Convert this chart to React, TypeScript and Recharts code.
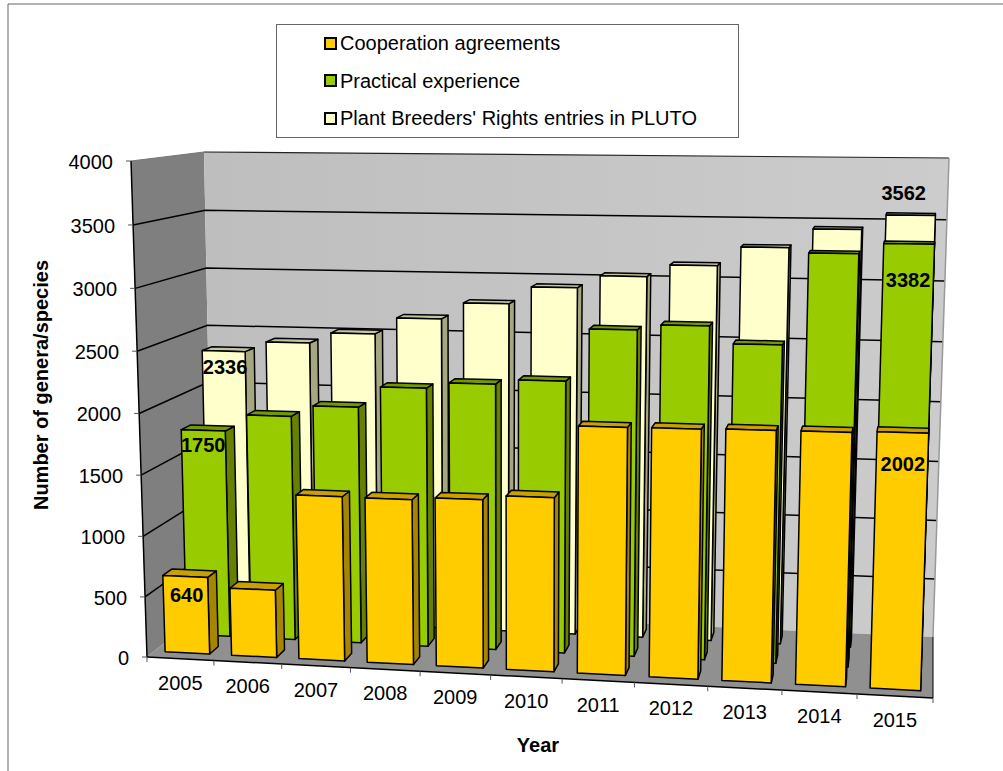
import React from 'react'
import {
  ComposedChart,
  Bar,
  XAxis,
  YAxis,
  Legend,
  LabelList,
  Customized,
} from 'recharts'

const years = ['2005', '2006', '2007', '2008', '2009', '2010', '2011', '2012', '2013', '2014', '2015']
const cooperation = [640, 559, 1348, 1345, 1365, 1402, 1976, 1980, 1987, 1990, 2002]
const practical = [1750, 1890, 1982, 2154, 2203, 2242, 2667, 2712, 2574, 3299, 3382]
const pluto = [2336, 2423, 2513, 2652, 2789, 2933, 3035, 3134, 3289, 3443, 3562]
const yTicks = [0, 500, 1000, 1500, 2000, 2500, 3000, 3500, 4000]

const data = years.map((year, i) => ({
  year,
  cooperation: cooperation[i],
  practical: practical[i],
  pluto: pluto[i],
}))

const W = 1003
const H = 771
const FONT = '"Liberation Sans", Arial, sans-serif'
const FONT_SIZE = 20

// flat plot rectangle the library works in, warped afterwards to the Excel 3D box
const PLOT = { left: 147, right: 933, top: 161, bottom: 657 }

const lerp = (a: number, b: number, t: number) => a + (b - a) * t

// u along the years, v up the value axis, w from front to back wall
const project = (u: number, v: number, w: number) => {
  const uu = u - 0.07 * u * (1 - u)
  const vv = v - 0.036 * v * (1 - v)
  const fbx = lerp(147, 933, uu)
  const fby = lerp(657, 698, uu)
  const ftx = lerp(131, 950, uu)
  const fty = lerp(161, 168, uu)
  const bbx = lerp(213, 933, uu)
  const bby = lerp(604, 637, uu)
  const btx = lerp(204, 949, uu)
  const bty = lerp(152, 158, uu)
  const fx = lerp(fbx, ftx, vv)
  const fy = lerp(fby, fty, vv)
  const bx = lerp(bbx, btx, vv)
  const by = lerp(bby, bty, vv)
  return { x: lerp(fx, bx, w), y: lerp(fy, by, w) }
}

const toU = (x: number) => (x - PLOT.left) / (PLOT.right - PLOT.left)
const toV = (y: number) => (PLOT.bottom - y) / (PLOT.bottom - PLOT.top)
const pts = (list: { x: number; y: number }[]) => list.map((p) => `${p.x},${p.y}`).join(' ')

const BAR_DEPTH = 0.14

const makeBox = (w: number, front: string, top: string, side: string) => (props: any) => {
  const { x, y, width, height } = props
  const u0 = toU(x)
  const u1 = toU(x + width)
  const v = toV(y)
  const v0 = toV(y + height)
  const d = w + BAR_DEPTH
  return (
    <g stroke="#000" strokeWidth={1.5} strokeLinejoin="round">
      <polygon
        fill={side}
        points={pts([project(u1, v0, w), project(u1, v0, d), project(u1, v, d), project(u1, v, w)])}
      />
      <polygon
        fill={top}
        points={pts([project(u0, v, w), project(u1, v, w), project(u1, v, d), project(u0, v, d)])}
      />
      <polygon
        fill={front}
        points={pts([project(u0, v0, w), project(u1, v0, w), project(u1, v, w), project(u0, v, w)])}
      />
    </g>
  )
}

// only the first and last year carry a value label
const makeLabel = (w: number, first: number[], last: number[]) => (props: any) => {
  const { x, y, width, value, index } = props
  if (index !== 0 && index !== years.length - 1) return null
  const [dx, dy] = index === 0 ? first : last
  const p = project(toU(x + width / 2), toV(y), w)
  return (
    <text
      x={p.x + dx}
      y={p.y + dy}
      textAnchor="middle"
      dominantBaseline="central"
      fontFamily={FONT}
      fontWeight="bold"
      fontSize={FONT_SIZE}
      fill="#000"
    >
      {value}
    </text>
  )
}

const Walls = () => {
  const a = project(0, 0, 0)
  const b = project(1, 0, 0)
  const c = project(0, 1, 0)
  const d = project(0, 0, 1)
  const e = project(1, 0, 1)
  const f = project(0, 1, 1)
  const g = project(1, 1, 1)
  return (
    <g>
      <defs>
        <linearGradient id="backWall" x1="0" y1="0" x2="1" y2="0">
          <stop offset="0" stopColor="#bebebe" />
          <stop offset="1" stopColor="#cccccc" />
        </linearGradient>
      </defs>
      <line x1={8} y1={4} x2={W} y2={4} stroke="#666" strokeWidth={1} />
      <line x1={8} y1={4} x2={8} y2={H} stroke="#666" strokeWidth={1} />
      <polygon points={pts([c, f, d, a])} fill="#7f7f7f" />
      <polygon points={pts([f, g, e, d])} fill="url(#backWall)" />
      <polygon points={pts([a, b, e, d])} fill="#909090" />
      {yTicks.slice(1, -1).map((t) => {
        const v = t / 4000
        const p0 = project(0, v, 0)
        const p1 = project(0, v, 1)
        const p2 = project(1, v, 1)
        return (
          <polyline key={t} points={pts([p0, p1, p2])} fill="none" stroke="#000" strokeWidth={1.5} />
        )
      })}
      <line x1={c.x} y1={c.y} x2={f.x} y2={f.y} stroke="#777" strokeWidth={1} />
      <line x1={f.x} y1={f.y} x2={g.x} y2={g.y} stroke="#222" strokeWidth={1.2} />
      <line x1={g.x} y1={g.y} x2={e.x} y2={e.y} stroke="#999" strokeWidth={1.5} />
      <line x1={e.x} y1={e.y} x2={b.x} y2={b.y} stroke="#000" strokeWidth={1} />
      <line x1={c.x} y1={c.y} x2={a.x} y2={a.y} stroke="#000" strokeWidth={1.5} />
      <line x1={a.x} y1={a.y} x2={b.x} y2={b.y} stroke="#000" strokeWidth={1.5} />
      {yTicks.map((t) => {
        const p = project(0, t / 4000, 0)
        return <line key={t} x1={p.x - 5} y1={p.y} x2={p.x} y2={p.y} stroke="#555" strokeWidth={1} />
      })}
      {years.concat('').map((yr, i) => {
        const p = project(i / years.length, 0, 0)
        return <line key={i} x1={p.x} y1={p.y} x2={p.x} y2={p.y + 5} stroke="#555" strokeWidth={1} />
      })}
    </g>
  )
}

const YearTick = (props: any) => {
  const { x, payload } = props
  const p = project(toU(x), 0, 0)
  return (
    <text x={p.x} y={p.y + 24} textAnchor="middle" dominantBaseline="central" fontFamily={FONT} fontSize={FONT_SIZE} fill="#000">
      {payload.value}
    </text>
  )
}

const ValueTick = (props: any) => {
  const { y, payload } = props
  const p = project(0, toV(y), 0)
  return (
    <text x={p.x - 18} y={p.y + 1} textAnchor="end" dominantBaseline="central" fontFamily={FONT} fontSize={FONT_SIZE} fill="#000">
      {payload.value}
    </text>
  )
}

const LegendBox = (props: any) => {
  const items = [...(props.payload || [])].reverse()
  return (
    <div
      style={{
        boxSizing: 'border-box',
        width: 463,
        height: 114,
        background: '#fff',
        border: '1px solid #666',
        fontFamily: FONT,
        fontSize: FONT_SIZE,
        position: 'relative',
      }}
    >
      {items.map((item: any, i: number) => (
        <div
          key={item.value}
          style={{
            position: 'absolute',
            left: 47,
            top: 18 + i * 37.5 - 11,
            height: 22,
            lineHeight: '22px',
            whiteSpace: 'nowrap',
            display: 'flex',
            alignItems: 'center',
          }}
        >
          <span
            style={{
              display: 'inline-block',
              boxSizing: 'border-box',
              width: 13,
              height: 13,
              border: '2px solid #000',
              background: item.color,
              marginRight: 3,
            }}
          />
          <span style={{ color: '#000' }}>{item.value}</span>
        </div>
      ))}
    </div>
  )
}

export default function App() {
  return (
    <div style={{ position: 'absolute', left: 0, top: 0, width: W, height: H, overflow: 'hidden', background: '#fff' }}>
      <ComposedChart
        width={W}
        height={H}
        data={data}
        barCategoryGap="16.5%"
        margin={{ top: PLOT.top, right: W - PLOT.right, bottom: 0, left: 0 }}
      >
        <XAxis
          xAxisId="front"
          dataKey="year"
          height={H - PLOT.bottom}
          axisLine={false}
          tickLine={false}
          interval={0}
          tick={<YearTick />}
          label={{
            value: 'Year',
            position: 'insideBottom',
            offset: 49,
            dx: -2,
            style: { fontFamily: FONT, fontWeight: 'bold', fontSize: FONT_SIZE, fill: '#000' },
          }}
        />
        <XAxis xAxisId="middle" dataKey="year" hide />
        <XAxis xAxisId="back" dataKey="year" hide />
        <YAxis
          width={PLOT.left}
          domain={[0, 4000]}
          ticks={yTicks}
          interval={0}
          axisLine={false}
          tickLine={false}
          tick={<ValueTick />}
          label={{
            value: 'Number of genera/species',
            angle: -90,
            position: 'insideLeft',
            offset: 41,
            dy: -24,
            style: { textAnchor: 'middle', fontFamily: FONT, fontWeight: 'bold', fontSize: FONT_SIZE, fill: '#000' },
          }}
        />
        <Legend
          layout="horizontal"
          verticalAlign="middle"
          align="center"
          itemSorter={null}
          wrapperStyle={{ left: 276, top: 24, width: 463, height: 114 }}
          content={<LegendBox />}
        />
        <Customized component={<Walls />} />
        <Bar
          xAxisId="back"
          dataKey="pluto"
          name="Plant Breeders' Rights entries in PLUTO"
          fill="#FFFFCC"
          shape={makeBox(0.77, '#FFFFCC', '#C4C4A0', '#A6A680')}
          isAnimationActive={false}
        >
          <LabelList dataKey="pluto" content={makeLabel(0.77, [1.5, 16], [-7, -22])} />
        </Bar>
        <Bar
          xAxisId="middle"
          dataKey="practical"
          name="Practical experience"
          fill="#99CC00"
          shape={makeBox(0.44, '#99CC00', '#739900', '#668000')}
          isAnimationActive={false}
        >
          <LabelList dataKey="practical" content={makeLabel(0.44, [0, 15], [-1, 36])} />
        </Bar>
        <Bar
          xAxisId="front"
          dataKey="cooperation"
          name="Cooperation agreements"
          fill="#FFCC00"
          shape={makeBox(0.11, '#FFCC00', '#C8A000', '#A68500')}
          isAnimationActive={false}
        >
          <LabelList dataKey="cooperation" content={makeLabel(0.11, [1.5, 19], [0, 32])} />
        </Bar>
      </ComposedChart>
    </div>
  )
}
